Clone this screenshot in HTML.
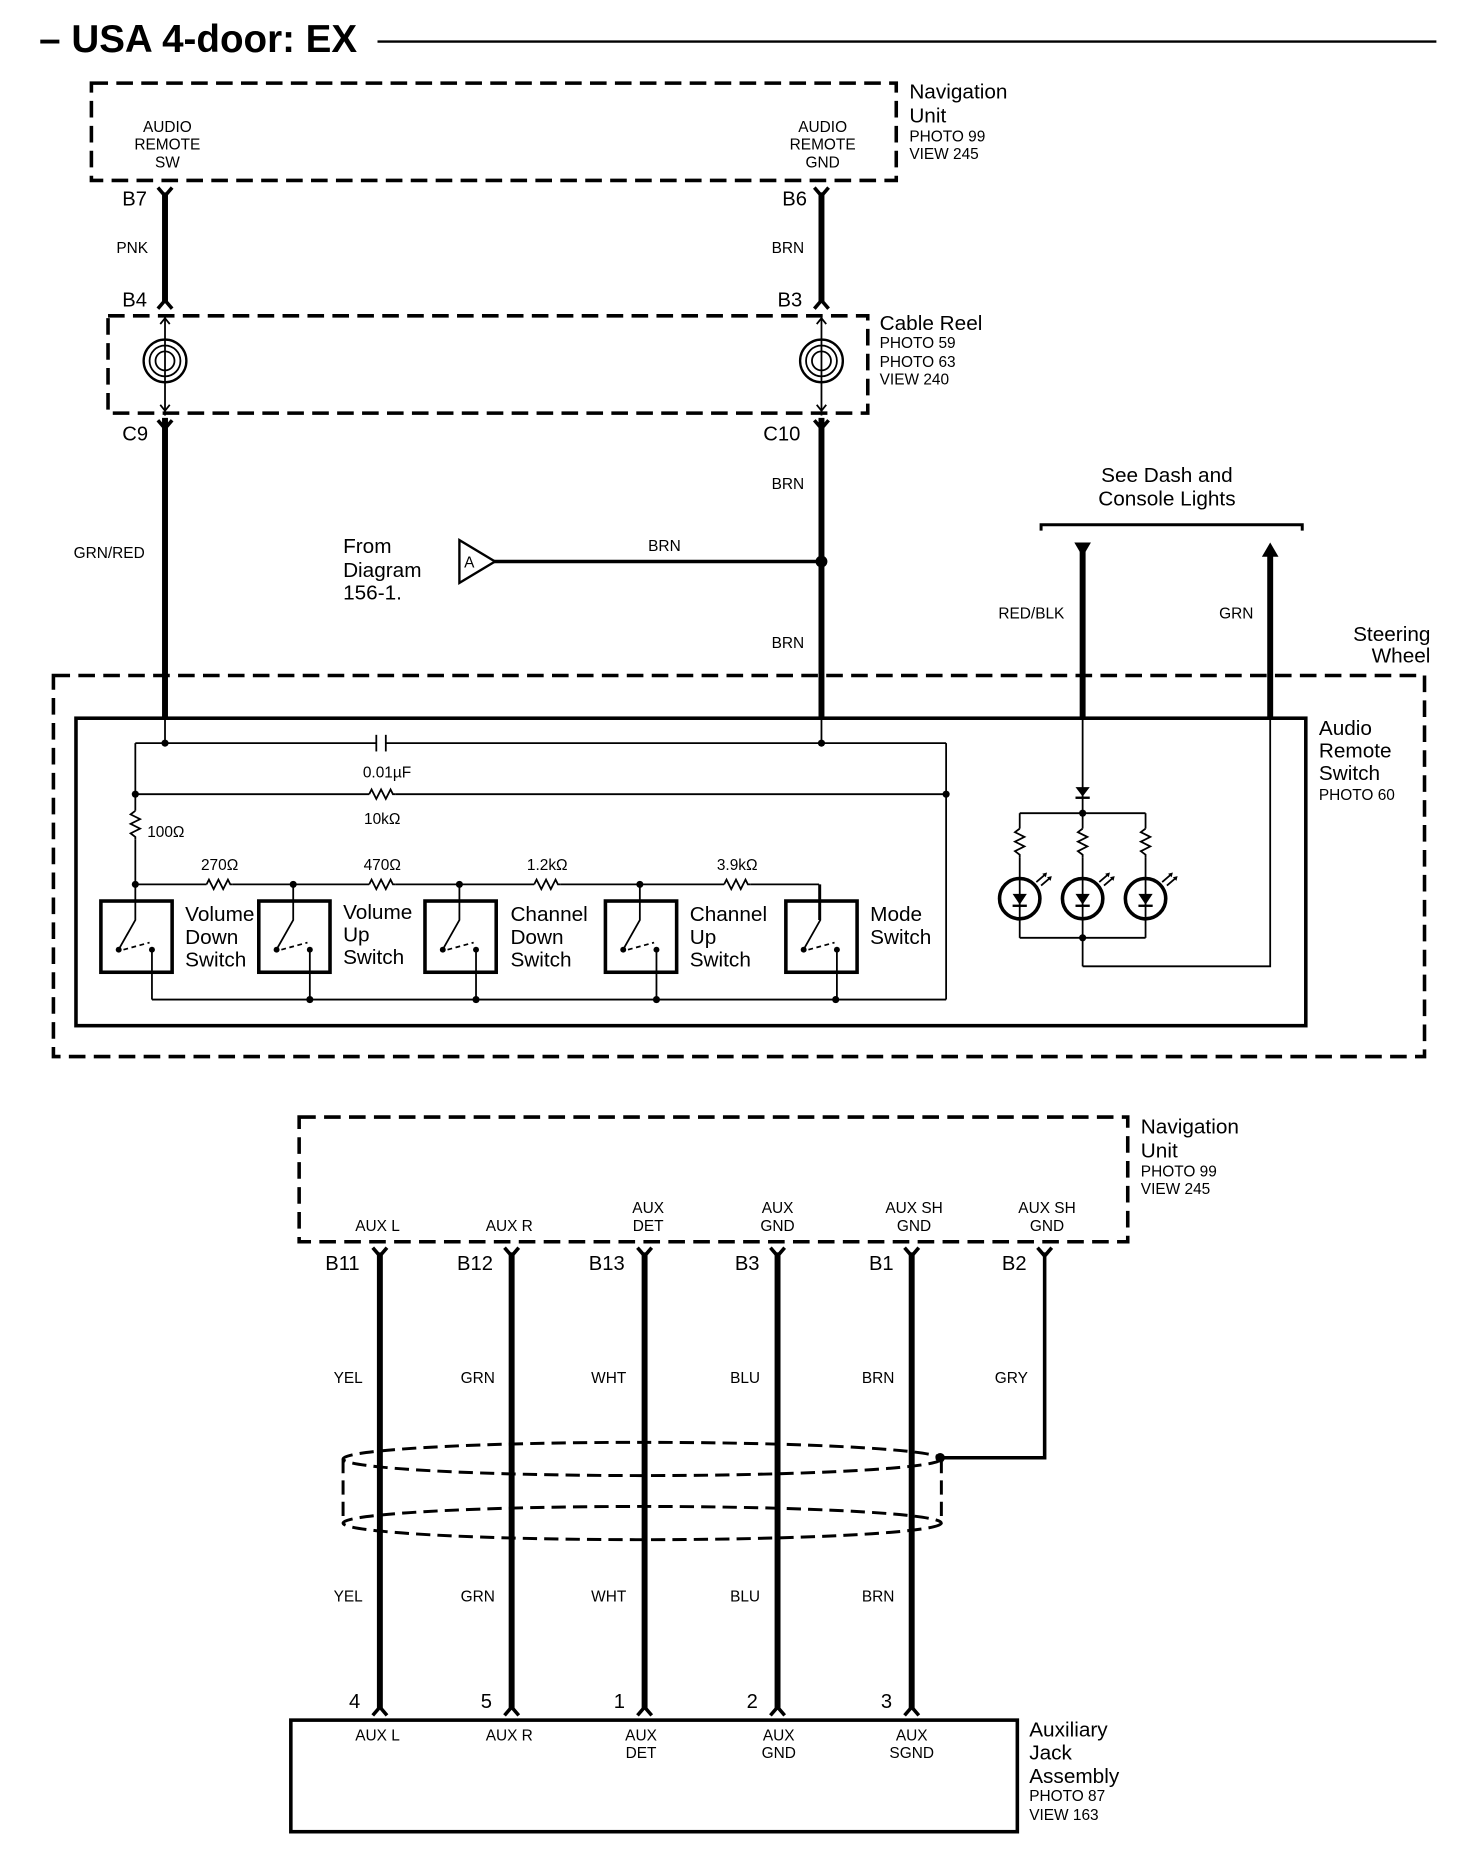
<!DOCTYPE html>
<html><head><meta charset="utf-8"><style>
html,body{margin:0;padding:0;background:#fff}
svg{display:block}
text{font-family:"Liberation Sans",Arial,sans-serif;fill:#000}
.s{font-size:13px}
.m{font-size:17.5px}
.b{font-size:17px}
</style></head><body>
<svg width="1472" height="1862" viewBox="0 0 1240 1568.5" xmlns="http://www.w3.org/2000/svg">
<defs>
<g id="fork"><path d="M-6,-6 L0,1 L6,-6" fill="none" stroke="#000" stroke-width="3"/></g>
<g id="up"><path d="M-6,6 L0,-1 L6,6" fill="none" stroke="#000" stroke-width="3"/></g>
<g id="res"><path d="M-11,0 L-9,-4 L-5,4 L-1,-4 L3,4 L7,-4 L9,0 L11,0" fill="none" stroke="#000" stroke-width="1.5"/></g>
<g id="resv"><path d="M0,-12 L-4,-9 L4,-5 L-4,-1 L4,3 L-4,7 L0,10 L0,12" fill="none" stroke="#000" stroke-width="1.5"/></g>
</defs>
<!-- title -->
<text x="33" y="44" style="font-size:32.5px;font-weight:bold">– USA 4-door: EX</text>
<line x1="318" y1="35" x2="1210" y2="35" stroke="#000" stroke-width="2"/>

<!-- nav unit 1 -->
<rect x="77" y="70" width="678" height="82" fill="none" stroke="#000" stroke-width="3" stroke-dasharray="14,7"/>
<g class="s" text-anchor="middle">
<text x="141" y="111">AUDIO</text><text x="141" y="126">REMOTE</text><text x="141" y="141">SW</text>
<text x="693" y="111">AUDIO</text><text x="693" y="126">REMOTE</text><text x="693" y="141">GND</text>
</g>
<text class="m" x="766" y="83">Navigation</text><text class="m" x="766" y="103">Unit</text>
<text class="s" x="766" y="119">PHOTO 99</text><text class="s" x="766" y="134">VIEW 245</text>

<line x1="139" y1="162" x2="139" y2="255" stroke="#000" stroke-width="5"/>
<line x1="692" y1="162" x2="692" y2="255" stroke="#000" stroke-width="5"/>
<use href="#fork" x="139" y="164"/><use href="#fork" x="692" y="164"/>
<use href="#up" x="139" y="254"/><use href="#up" x="692" y="254"/>
<text class="b" x="103" y="173">B7</text><text class="s" x="98" y="213">PNK</text><text class="b" x="103" y="258">B4</text>
<text class="b" x="659" y="173">B6</text><text class="s" x="650" y="213">BRN</text><text class="b" x="655" y="258">B3</text>

<!-- cable reel -->
<rect x="91" y="266" width="640" height="82" fill="none" stroke="#000" stroke-width="3" stroke-dasharray="14,7"/>
<g fill="none" stroke="#000" stroke-width="1.5">
<circle cx="139" cy="304" r="18" stroke-width="2"/><circle cx="139" cy="304" r="13"/><circle cx="139" cy="304" r="8"/>
<circle cx="692" cy="304" r="18" stroke-width="2"/><circle cx="692" cy="304" r="13"/><circle cx="692" cy="304" r="8"/>
<line x1="139" y1="266" x2="139" y2="350"/><line x1="692" y1="266" x2="692" y2="350"/>
<path d="M135,273 L139,268 L143,273 M135,341 L139,346 L143,341 M688,273 L692,268 L696,273 M688,341 L692,346 L696,341"/>
</g>
<text class="m" x="741" y="278">Cable Reel</text>
<text class="s" x="741" y="293">PHOTO 59</text><text class="s" x="741" y="309">PHOTO 63</text><text class="s" x="741" y="324">VIEW 240</text>

<text class="b" x="103" y="371">C9</text><text class="b" x="643" y="371">C10</text>
<line x1="139" y1="352" x2="139" y2="605" stroke="#000" stroke-width="5"/>
<line x1="692" y1="352" x2="692" y2="605" stroke="#000" stroke-width="5"/>
<use href="#fork" x="139" y="360"/><use href="#fork" x="692" y="360"/>
<text class="s" x="62" y="470">GRN/RED</text>
<text class="s" x="650" y="412">BRN</text><text class="s" x="650" y="546">BRN</text>
<line x1="415" y1="473" x2="692" y2="473" stroke="#000" stroke-width="3"/>
<circle cx="692" cy="473" r="5"/>
<text class="s" x="546" y="464">BRN</text>
<polygon points="387,455 387,491 417,473" fill="#fff" stroke="#000" stroke-width="2"/>
<text class="s" x="391" y="478">A</text>
<text class="m" x="289" y="466">From</text><text class="m" x="289" y="486">Diagram</text><text class="m" x="289" y="505">156-1.</text>

<text class="m" x="983" y="406" text-anchor="middle">See Dash and</text>
<text class="m" x="983" y="426" text-anchor="middle">Console Lights</text>
<path d="M877,447 L877,442 L1097,442 L1097,447" fill="none" stroke="#000" stroke-width="2.5"/>
<line x1="912" y1="462" x2="912" y2="605" stroke="#000" stroke-width="5"/>
<polygon points="905,457 919,457 912,469"/>
<line x1="1070" y1="466" x2="1070" y2="605" stroke="#000" stroke-width="5"/>
<polygon points="1063,469 1077,469 1070,457"/>
<text class="s" x="841" y="521">RED/BLK</text><text class="s" x="1027" y="521">GRN</text>
<text class="m" x="1205" y="540" text-anchor="end">Steering</text>
<text class="m" x="1205" y="558" text-anchor="end">Wheel</text>

<!-- steering wheel -->
<rect x="45" y="569" width="1155" height="321" fill="none" stroke="#000" stroke-width="3" stroke-dasharray="14,7"/>
<rect x="64" y="605" width="1036" height="259" fill="none" stroke="#000" stroke-width="3"/>
<text class="m" x="1111" y="619">Audio</text><text class="m" x="1111" y="638">Remote</text><text class="m" x="1111" y="657">Switch</text>
<text class="s" x="1111" y="674">PHOTO 60</text>

<g fill="none" stroke="#000" stroke-width="1.5">
<line x1="139" y1="605" x2="139" y2="626"/><line x1="692" y1="605" x2="692" y2="626"/>
<line x1="114" y1="626" x2="317" y2="626"/><line x1="325" y1="626" x2="797" y2="626"/>
<line x1="317" y1="619" x2="317" y2="633"/><line x1="325" y1="619" x2="325" y2="633"/>
<line x1="114" y1="626" x2="114" y2="683"/><line x1="114" y1="707" x2="114" y2="745"/>
<line x1="797" y1="626" x2="797" y2="842"/>
<line x1="114" y1="669" x2="311" y2="669"/><line x1="333" y1="669" x2="797" y2="669"/>
<line x1="114" y1="745" x2="174" y2="745"/><line x1="196" y1="745" x2="311" y2="745"/><line x1="333" y1="745" x2="450" y2="745"/><line x1="472" y1="745" x2="610" y2="745"/><line x1="632" y1="745" x2="690" y2="745"/>
<line x1="690" y1="745" x2="690" y2="775"/>
<line x1="128" y1="842" x2="797" y2="842"/>
</g>
<use href="#res" x="322" y="669"/><use href="#resv" x="114" y="695"/>
<use href="#res" x="185" y="745"/><use href="#res" x="322" y="745"/><use href="#res" x="461" y="745"/><use href="#res" x="621" y="745"/>
<g>
<circle cx="139" cy="626" r="3"/><circle cx="692" cy="626" r="3"/><circle cx="114" cy="669" r="3"/><circle cx="797" cy="669" r="3"/>
<circle cx="114" cy="745" r="3"/><circle cx="247" cy="745" r="3"/><circle cx="387" cy="745" r="3"/><circle cx="539" cy="745" r="3"/>
<circle cx="261" cy="842" r="3"/><circle cx="401" cy="842" r="3"/><circle cx="553" cy="842" r="3"/><circle cx="704" cy="842" r="3"/>
</g>
<text class="s" x="326" y="655" text-anchor="middle">0.01µF</text>
<text class="s" x="322" y="694" text-anchor="middle">10kΩ</text>
<text class="s" x="124" y="705">100Ω</text>
<text class="s" x="185" y="733" text-anchor="middle">270Ω</text>
<text class="s" x="322" y="733" text-anchor="middle">470Ω</text>
<text class="s" x="461" y="733" text-anchor="middle">1.2kΩ</text>
<text class="s" x="621" y="733" text-anchor="middle">3.9kΩ</text>

<!-- switches -->
<g id="sw1">
<rect x="85" y="759" width="60" height="60" fill="none" stroke="#000" stroke-width="3"/>
<path d="M114,745 L114,775 L101,798" fill="none" stroke="#000" stroke-width="1.5"/>
<path d="M104,800 L126,794" fill="none" stroke="#000" stroke-width="1.5" stroke-dasharray="4,3"/>
<circle cx="100" cy="800" r="2.5"/><circle cx="128" cy="800" r="2.5"/>
<line x1="128" y1="800" x2="128" y2="842" stroke="#000" stroke-width="1.5"/>
</g>
<use href="#sw1" x="133"/><use href="#sw1" x="273"/><use href="#sw1" x="425"/><use href="#sw1" x="577"/>

<g class="m">
<text x="156" y="776">Volume</text><text x="156" y="795">Down</text><text x="156" y="814">Switch</text>
<text x="289" y="774">Volume</text><text x="289" y="793">Up</text><text x="289" y="812">Switch</text>
<text x="430" y="776">Channel</text><text x="430" y="795">Down</text><text x="430" y="814">Switch</text>
<text x="581" y="776">Channel</text><text x="581" y="795">Up</text><text x="581" y="814">Switch</text>
<text x="733" y="776">Mode</text><text x="733" y="795">Switch</text>
</g>

<!-- LEDs -->
<g fill="none" stroke="#000" stroke-width="1.5">
<line x1="912" y1="605" x2="912" y2="685"/>
<line x1="859" y1="685" x2="965" y2="685"/>
<line x1="859" y1="685" x2="859" y2="698"/><line x1="859" y1="722" x2="859" y2="790"/>
<line x1="912" y1="685" x2="912" y2="698"/><line x1="912" y1="722" x2="912" y2="814"/>
<line x1="965" y1="685" x2="965" y2="698"/><line x1="965" y1="722" x2="965" y2="790"/>
<line x1="859" y1="790" x2="965" y2="790"/>
<polyline points="912,814 1070,814 1070,605"/>
<circle cx="859" cy="757" r="17" stroke-width="3" fill="#fff"/>
<circle cx="912" cy="757" r="17" stroke-width="3" fill="#fff"/>
<circle cx="965" cy="757" r="17" stroke-width="3" fill="#fff"/>
<line x1="859" y1="740" x2="859" y2="774"/><line x1="912" y1="740" x2="912" y2="774"/><line x1="965" y1="740" x2="965" y2="774"/>
</g>
<use href="#resv" x="859" y="710"/><use href="#resv" x="912" y="710"/><use href="#resv" x="965" y="710"/>
<polygon points="906,663 918,663 912,671"/><line x1="906" y1="672" x2="918" y2="672" stroke="#000" stroke-width="2"/>
<circle cx="912" cy="685" r="3"/><circle cx="912" cy="790" r="3"/>
<g id="led">
<polygon points="853,753 865,753 859,762"/><line x1="853" y1="763" x2="865" y2="763" stroke="#000" stroke-width="2"/>
<path d="M873,743 L880,737 M877,746 L884,740" stroke="#000" stroke-width="1.5"/>
<polygon points="878,736 882,735 881,739"/><polygon points="882,739 886,738 885,742"/>
</g>
<use href="#led" x="53"/><use href="#led" x="106"/>

<!-- nav unit 2 -->
<rect x="252" y="941" width="698" height="105" fill="none" stroke="#000" stroke-width="3" stroke-dasharray="14,7"/>
<text class="m" x="961" y="955">Navigation</text><text class="m" x="961" y="975">Unit</text>
<text class="s" x="961" y="991">PHOTO 99</text><text class="s" x="961" y="1006">VIEW 245</text>
<g class="s" text-anchor="middle">
<text x="318" y="1037">AUX L</text><text x="429" y="1037">AUX R</text>
<text x="546" y="1022">AUX</text><text x="546" y="1037">DET</text>
<text x="655" y="1022">AUX</text><text x="655" y="1037">GND</text>
<text x="770" y="1022">AUX SH</text><text x="770" y="1037">GND</text>
<text x="882" y="1022">AUX SH</text><text x="882" y="1037">GND</text>
</g>
<g stroke="#000" stroke-width="5">
<line x1="320" y1="1055" x2="320" y2="1440"/><line x1="431" y1="1055" x2="431" y2="1440"/>
<line x1="543" y1="1055" x2="543" y2="1440"/><line x1="655" y1="1055" x2="655" y2="1440"/>
<line x1="768" y1="1055" x2="768" y2="1440"/>
</g>
<polyline points="880,1055 880,1228 792,1228" fill="none" stroke="#000" stroke-width="3"/>
<use href="#fork" x="320" y="1057"/><use href="#fork" x="431" y="1057"/><use href="#fork" x="543" y="1057"/>
<use href="#fork" x="655" y="1057"/><use href="#fork" x="768" y="1057"/><use href="#fork" x="880" y="1057"/>
<use href="#up" x="320" y="1439"/><use href="#up" x="431" y="1439"/><use href="#up" x="543" y="1439"/>
<use href="#up" x="655" y="1439"/><use href="#up" x="768" y="1439"/>
<g class="b">
<text x="274" y="1070">B11</text><text x="385" y="1070">B12</text><text x="496" y="1070">B13</text>
<text x="619" y="1070">B3</text><text x="732" y="1070">B1</text><text x="844" y="1070">B2</text>
<text x="294" y="1439">4</text><text x="405" y="1439">5</text><text x="517" y="1439">1</text>
<text x="629" y="1439">2</text><text x="742" y="1439">3</text>
</g>
<g class="s">
<text x="281" y="1165">YEL</text><text x="388" y="1165">GRN</text><text x="498" y="1165">WHT</text>
<text x="615" y="1165">BLU</text><text x="726" y="1165">BRN</text><text x="838" y="1165">GRY</text>
<text x="281" y="1349">YEL</text><text x="388" y="1349">GRN</text><text x="498" y="1349">WHT</text>
<text x="615" y="1349">BLU</text><text x="726" y="1349">BRN</text>
</g>
<g fill="none" stroke="#000" stroke-width="2.5" stroke-dasharray="12,6">
<ellipse cx="541" cy="1229" rx="252" ry="14"/>
<ellipse cx="541" cy="1283" rx="252" ry="14"/>
<line x1="289" y1="1229" x2="289" y2="1283"/><line x1="793" y1="1229" x2="793" y2="1283"/>
</g>
<circle cx="792" cy="1228" r="4"/>

<!-- aux jack -->
<rect x="245" y="1449" width="612" height="94" fill="none" stroke="#000" stroke-width="3"/>
<g class="s" text-anchor="middle">
<text x="318" y="1466">AUX L</text><text x="429" y="1466">AUX R</text>
<text x="540" y="1466">AUX</text><text x="540" y="1481">DET</text>
<text x="656" y="1466">AUX</text><text x="656" y="1481">GND</text>
<text x="768" y="1466">AUX</text><text x="768" y="1481">SGND</text>
</g>
<text class="m" x="867" y="1463">Auxiliary</text><text class="m" x="867" y="1482">Jack</text>
<text class="m" x="867" y="1502">Assembly</text>
<text class="s" x="867" y="1517">PHOTO 87</text><text class="s" x="867" y="1533">VIEW 163</text>
</svg>
</body></html>
